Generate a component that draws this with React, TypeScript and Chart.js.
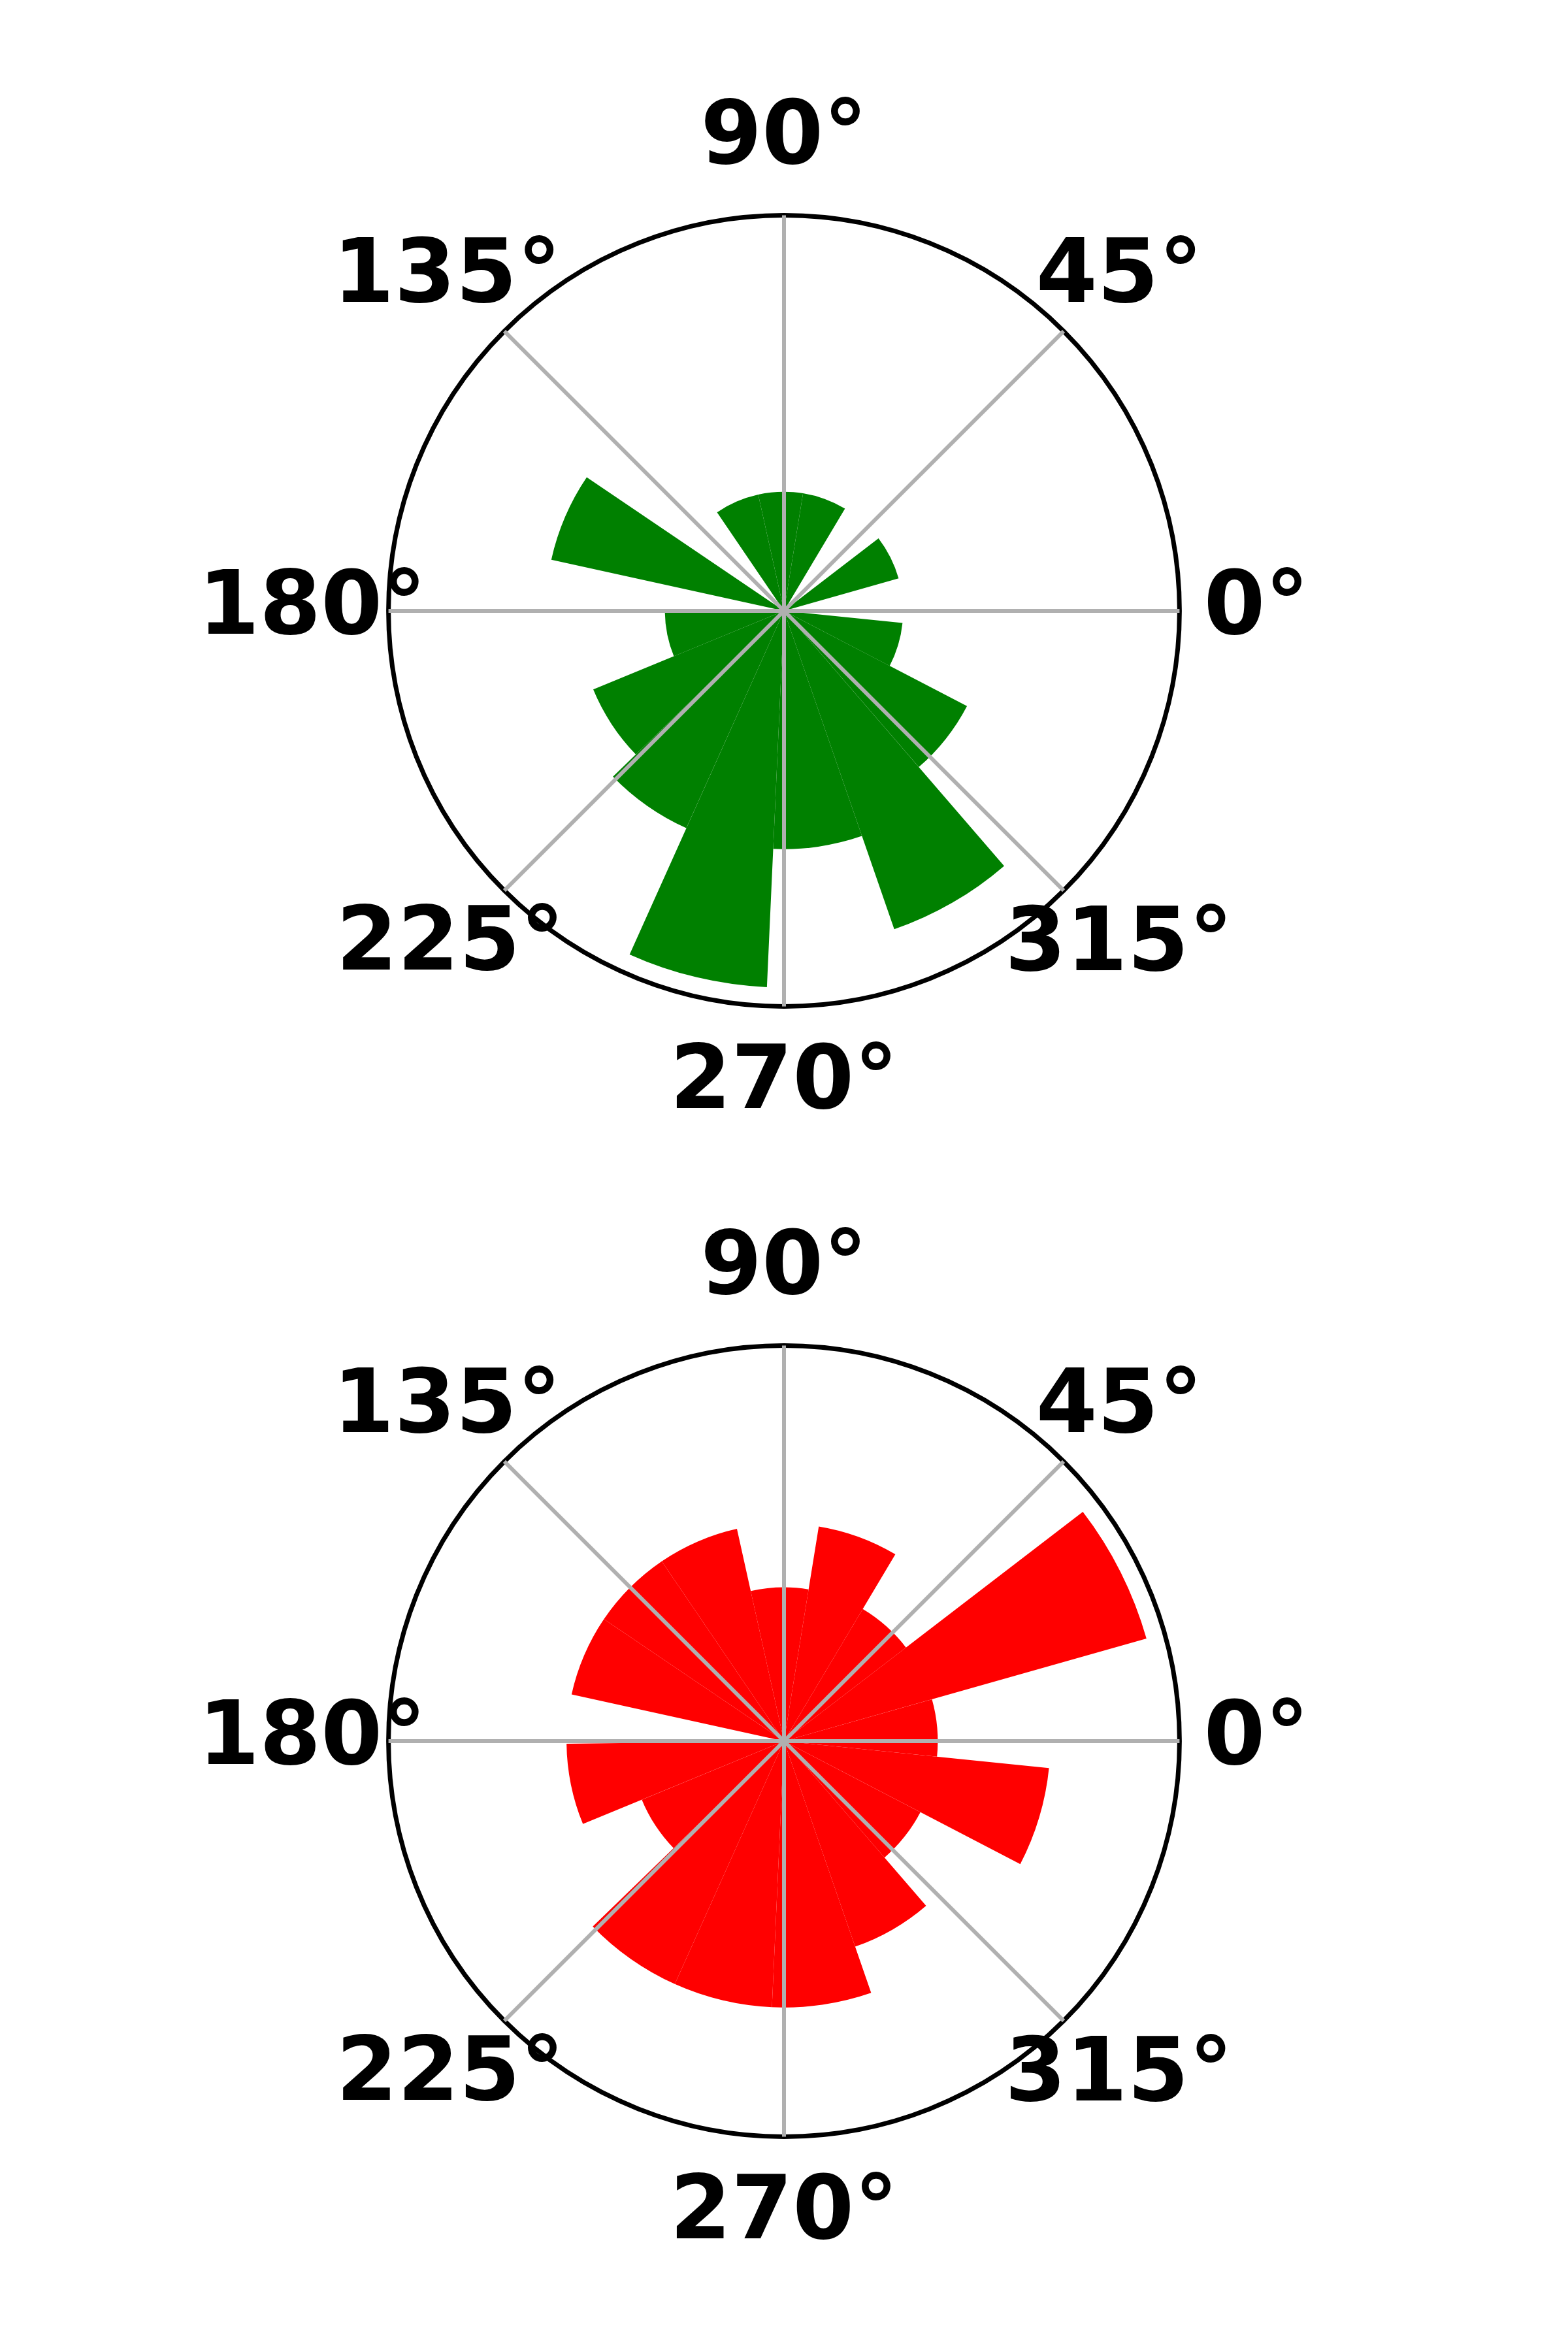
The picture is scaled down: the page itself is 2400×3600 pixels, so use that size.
import React, { useEffect, useRef } from "react";
import { Chart, registerables } from "chart.js";

Chart.register(...registerables);

// Histogram bin edges (math angle, degrees, counter-clockwise from east)
const binEdgesDeg = [
  -179.3, -157.6, -135.9, -114.2, -92.6, -70.9, -49.2, -27.5, -5.8,
  15.8, 37.5, 59.2, 80.8, 102.5, 124.2, 145.9, 167.6,
];

// Counts per bin (bar radius is proportional to sqrt(count))
const topCounts = [1, 3, 4, 10, 4, 8, 3, 1, 0, 1, 0, 1, 1, 1, 0, 4];
const bottomCounts = [2, 1, 3, 3, 3, 2, 1, 3, 1, 6, 1, 2, 1, 2, 2, 2];

// Angular tick labels, clockwise from the top
const angleTickLabels = ["90°", "45°", "0°", "315°", "270°", "225°", "180°", "135°"];

const topColor = "#008000";
const bottomColor = "#ff0000";

// label placement tuning (per label, clockwise from top)
const LABEL_SIZE = 135;
const LABEL_PAD = [47.4, -60, 37, -127.5, 52.6, -130, -58, -123];
const LABEL_LH = [1, 1.81, 1, 2.62, 1, 2.64, 1, 2.47];

type Arc = { start: number; len: number; r: number };

function buildArcs(counts: number[]): Arc[] {
  const segs: { a0: number; a1: number; r: number }[] = [];
  for (let i = 0; i < counts.length; i++) {
    segs.push({ a0: binEdgesDeg[i], a1: binEdgesDeg[i + 1], r: Math.sqrt(counts[i]) });
  }
  // empty span closing the circle
  segs.push({ a0: binEdgesDeg[binEdgesDeg.length - 1], a1: binEdgesDeg[0] + 360, r: 0 });
  const arcs: Arc[] = [];
  for (const s of segs) {
    const c0 = (((90 - s.a1) % 360) + 360) % 360; // chart angle: clockwise from top
    const len = s.a1 - s.a0;
    if (c0 + len > 360) {
      arcs.push({ start: c0, len: 360 - c0, r: s.r });
      arcs.push({ start: 0, len: c0 + len - 360, r: s.r });
    } else {
      arcs.push({ start: c0, len, r: s.r });
    }
  }
  arcs.sort((a, b) => a.start - b.start);
  return arcs;
}

const CANVAS_H = 1586;

function RoseChart({ counts, color, top }: { counts: number[]; color: string; top: number }) {
  const ref = useRef<HTMLCanvasElement>(null);
  useEffect(() => {
    const arcs = buildArcs(counts);
    const rMax = 1.05 * Math.sqrt(Math.max(...counts));
    const chart = new Chart(ref.current as HTMLCanvasElement, {
      type: "polarArea",
      data: {
        datasets: [
          {
            data: arcs.map((a) => a.r),
            angle: arcs.map((a) => a.len),
            backgroundColor: color,
            borderWidth: 0,
          } as any,
        ],
      },
      options: {
        responsive: false,
        animation: false,
        devicePixelRatio: 1,
        layout: { padding: 0 },
        plugins: { legend: { display: false }, tooltip: { enabled: false } },
        scales: {
          r: {
            type: "radialLinear",
            labels: angleTickLabels,
            startAngle: 0,
            min: 0,
            max: rMax,
            ticks: { display: false },
            afterBuildTicks: (s: any) => {
              s.ticks = [{ value: 0 }, { value: rMax }];
            },
            grid: { display: true, circular: true, color: "#000000", lineWidth: 7, z: 1 },
            angleLines: { display: true, color: "#b0b0b0", lineWidth: 6 },
            pointLabels: {
              display: true,
              color: "#000000",
              padding: (c: any) => LABEL_PAD[c.index],
              font: (c: any) => ({
                family: "'DejaVu Sans'",
                weight: "bold",
                size: LABEL_SIZE,
                lineHeight: LABEL_LH[c.index],
              }),
            },
          } as any,
        },
      } as any,
    });
    return () => chart.destroy();
  }, []);
  return (
    <canvas
      ref={ref}
      width={2400}
      height={CANVAS_H}
      style={{ position: "absolute", left: 0, top, width: 2400, height: CANVAS_H }}
    />
  );
}

export default function App() {
  return (
    <div style={{ position: "absolute", left: 0, top: 0, width: 2400, height: 3600, background: "#ffffff" }}>
      <RoseChart counts={topCounts} color={topColor} top={145} />
      <RoseChart counts={bottomCounts} color={bottomColor} top={1875} />
    </div>
  );
}
